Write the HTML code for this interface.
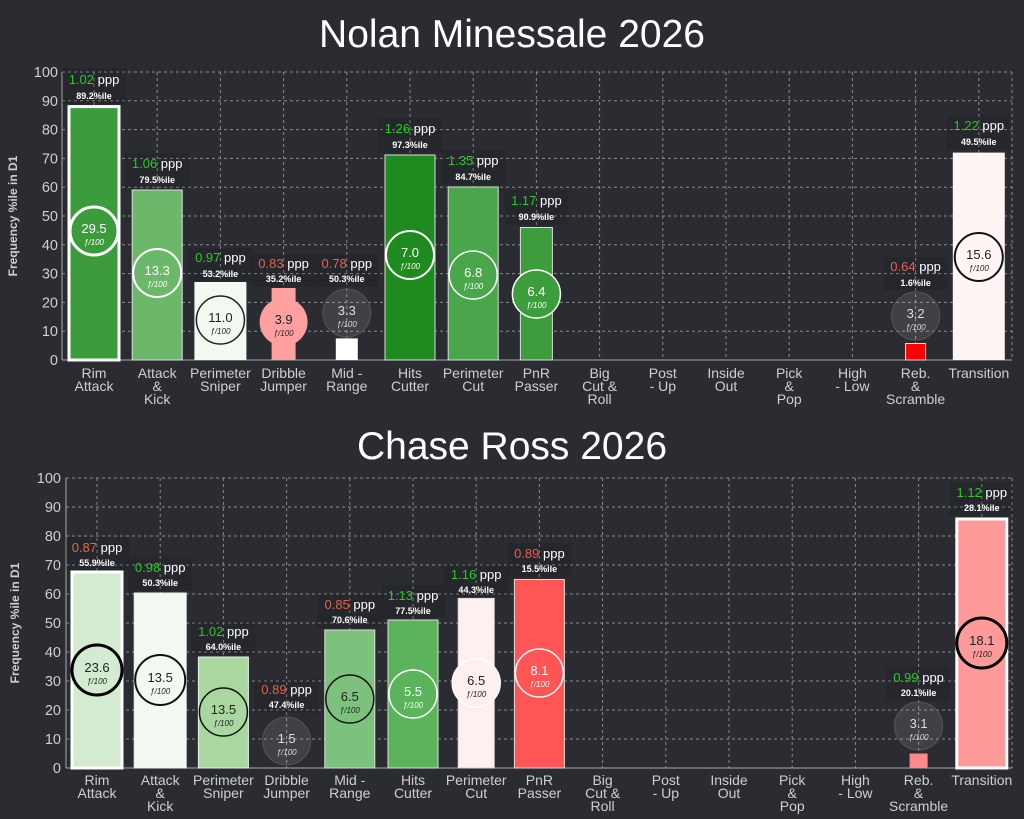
<!DOCTYPE html>
<html><head><meta charset="utf-8"><style>
html,body{margin:0;padding:0;background:#2a2c31;}
svg{display:block;font-family:"Liberation Sans",sans-serif;}
.t{fill:#fff;font-size:39px;text-anchor:middle}
.yt{fill:#cfcfcf;font-size:14.5px;text-anchor:end}
.xl{fill:#cfcfcf;font-size:14px;text-anchor:middle}
.g{stroke:#aaa;stroke-dasharray:3,3;stroke-width:1;opacity:.75}
.pp{font-size:13px;text-anchor:middle;fill:#fff}
.pc{font-size:9px;text-anchor:middle;fill:#fff;font-weight:bold}
.v{font-size:13px;text-anchor:middle}
.f{font-size:8px;text-anchor:middle;font-style:italic}
.lb{fill:#000;opacity:.1}
.gn{fill:#22cc22}.rd{fill:#e8604c}
</style></head><body>
<svg width="1024" height="819" viewBox="0 0 1024 819">
<rect width="1024" height="819" fill="#2a2c31"/>
<text class="t" x="512" y="47">Nolan Minessale 2026</text>
<text class="t" x="512" y="459">Chase Ross 2026</text>

<!-- TOP CHART -->
<g>
<g class="g">
<line x1="62" x2="1012" y1="72" y2="72"/><line x1="62" x2="1012" y1="100.8" y2="100.8"/><line x1="62" x2="1012" y1="129.6" y2="129.6"/><line x1="62" x2="1012" y1="158.4" y2="158.4"/><line x1="62" x2="1012" y1="187.2" y2="187.2"/><line x1="62" x2="1012" y1="216" y2="216"/><line x1="62" x2="1012" y1="244.8" y2="244.8"/><line x1="62" x2="1012" y1="273.6" y2="273.6"/><line x1="62" x2="1012" y1="302.4" y2="302.4"/><line x1="62" x2="1012" y1="331.2" y2="331.2"/>
<line x1="1012" x2="1012" y1="72" y2="360"/>
<line x1="94" x2="94" y1="72" y2="360"/><line x1="157.2" x2="157.2" y1="72" y2="360"/><line x1="220.4" x2="220.4" y1="72" y2="360"/><line x1="283.6" x2="283.6" y1="72" y2="360"/><line x1="346.8" x2="346.8" y1="72" y2="360"/><line x1="410" x2="410" y1="72" y2="360"/><line x1="473.2" x2="473.2" y1="72" y2="360"/><line x1="536.4" x2="536.4" y1="72" y2="360"/><line x1="599.6" x2="599.6" y1="72" y2="360"/><line x1="662.8" x2="662.8" y1="72" y2="360"/><line x1="726" x2="726" y1="72" y2="360"/><line x1="789.2" x2="789.2" y1="72" y2="360"/><line x1="852.4" x2="852.4" y1="72" y2="360"/><line x1="915.6" x2="915.6" y1="72" y2="360"/><line x1="978.8" x2="978.8" y1="72" y2="360"/>
</g>
<line x1="62" x2="62" y1="72" y2="360" stroke="#aaa"/>
<line x1="62" x2="1012" y1="360" y2="360" stroke="#aaa"/>
<g>
<text class="yt" x="58" y="77">100</text><text class="yt" x="58" y="105.8">90</text><text class="yt" x="58" y="134.6">80</text><text class="yt" x="58" y="163.4">70</text><text class="yt" x="58" y="192.2">60</text><text class="yt" x="58" y="221">50</text><text class="yt" x="58" y="249.8">40</text><text class="yt" x="58" y="278.6">30</text><text class="yt" x="58" y="307.4">20</text><text class="yt" x="58" y="336.2">10</text><text class="yt" x="58" y="365">0</text>
</g>
<text transform="translate(17,216) rotate(-90)" fill="#cfcfcf" font-size="12" font-weight="bold" text-anchor="middle">Frequency %ile in D1</text>
<g class="xl">
<text x="94" y="378">Rim</text><text x="94" y="391">Attack</text>
<text x="157.2" y="378">Attack</text><text x="157.2" y="391">&amp;</text><text x="157.2" y="404">Kick</text>
<text x="220.4" y="378">Perimeter</text><text x="220.4" y="391">Sniper</text>
<text x="283.6" y="378">Dribble</text><text x="283.6" y="391">Jumper</text>
<text x="346.8" y="378">Mid -</text><text x="346.8" y="391">Range</text>
<text x="410" y="378">Hits</text><text x="410" y="391">Cutter</text>
<text x="473.2" y="378">Perimeter</text><text x="473.2" y="391">Cut</text>
<text x="536.4" y="378">PnR</text><text x="536.4" y="391">Passer</text>
<text x="599.6" y="378">Big</text><text x="599.6" y="391">Cut &amp;</text><text x="599.6" y="404">Roll</text>
<text x="662.8" y="378">Post</text><text x="662.8" y="391">- Up</text>
<text x="726" y="378">Inside</text><text x="726" y="391">Out</text>
<text x="789.2" y="378">Pick</text><text x="789.2" y="391">&amp;</text><text x="789.2" y="404">Pop</text>
<text x="852.4" y="378">High</text><text x="852.4" y="391">- Low</text>
<text x="915.6" y="378">Reb.</text><text x="915.6" y="391">&amp;</text><text x="915.6" y="404">Scramble</text>
<text x="978.8" y="378">Transition</text>
</g>

<g transform="translate(94,0)">
<rect x="-25" y="106.6" width="50" height="253.4" fill="#3c9c3c" stroke="#fff" stroke-width="3"/>
<rect class="lb" x="-32" y="68" width="64" height="36"/>
<text class="pp" x="0" y="84"><tspan class="gn">1.02</tspan> ppp</text><text class="pc" x="0" y="99">89.2%ile</text>
<circle cx="0" cy="231" r="24" fill="#3c9c3c" stroke="#fff" stroke-width="3"/>
<text class="v" x="0" y="233" fill="#fff">29.5</text><text class="f" x="0" y="245" fill="#fff">ƒ/100</text>
</g>
<g transform="translate(157.2,0)">
<rect x="-25" y="190" width="50" height="170" fill="#6bb86b" stroke="#ddd" stroke-width="1"/>
<rect class="lb" x="-32" y="153" width="64" height="35"/>
<text class="pp" x="0" y="168"><tspan class="gn">1.06</tspan> ppp</text><text class="pc" x="0" y="183">79.5%ile</text>
<circle cx="0" cy="273" r="24" fill="#6bb86b" stroke="#fff" stroke-width="2"/>
<text class="v" x="0" y="275" fill="#fff">13.3</text><text class="f" x="0" y="287" fill="#fff">ƒ/100</text>
</g>
<g transform="translate(220.4,0)">
<rect x="-26" y="282" width="52" height="78" fill="#f3f8f0"/>
<rect class="lb" x="-32" y="248" width="64" height="33"/>
<text class="pp" x="0" y="262"><tspan class="gn">0.97</tspan> ppp</text><text class="pc" x="0" y="277">53.2%ile</text>
<circle cx="0" cy="320" r="24" fill="#f3f8f0" stroke="#222" stroke-width="1.5"/>
<text class="v" x="0" y="322" fill="#222">11.0</text><text class="f" x="0" y="334" fill="#222">ƒ/100</text>
</g>
<g transform="translate(283.6,0)">
<rect x="-12" y="288" width="24" height="72" fill="#ff9f9f"/>
<rect class="lb" x="-32" y="254" width="64" height="33"/>
<text class="pp" x="0" y="268"><tspan class="rd">0.83</tspan> ppp</text><text class="pc" x="0" y="282">35.2%ile</text>
<circle cx="0" cy="322" r="24" fill="#ffa0a0"/>
<text class="v" x="0" y="324" fill="#222">3.9</text><text class="f" x="0" y="336" fill="#222">ƒ/100</text>
</g>
<g transform="translate(346.8,0)">
<rect x="-11" y="338.4" width="22" height="21.6" fill="#fff"/>
<rect class="lb" x="-32" y="254" width="64" height="33"/>
<text class="pp" x="0" y="268"><tspan class="rd">0.78</tspan> ppp</text><text class="pc" x="0" y="282">50.3%ile</text>
<circle cx="0" cy="313" r="24" fill="#fff" fill-opacity=".1" stroke="#555" stroke-width="1"/>
<text class="v" x="0" y="315" fill="#ddd">3.3</text><text class="f" x="0" y="327" fill="#ddd">ƒ/100</text>
</g>
<g transform="translate(410,0)">
<rect x="-25" y="155" width="50" height="205" fill="#1f8a1f" stroke="#ddd" stroke-width="1"/>
<rect class="lb" x="-32" y="118" width="64" height="35"/>
<text class="pp" x="0" y="133"><tspan class="gn">1.26</tspan> ppp</text><text class="pc" x="0" y="148">97.3%ile</text>
<circle cx="0" cy="255" r="24" fill="#1f8a1f" stroke="#fff" stroke-width="2"/>
<text class="v" x="0" y="257" fill="#fff">7.0</text><text class="f" x="0" y="269" fill="#fff">ƒ/100</text>
</g>
<g transform="translate(473.2,0)">
<rect x="-25" y="187" width="50" height="173" fill="#4aa64a" stroke="#ddd" stroke-width="1"/>
<rect class="lb" x="-32" y="150" width="64" height="35"/>
<text class="pp" x="0" y="165"><tspan class="gn">1.35</tspan> ppp</text><text class="pc" x="0" y="180">84.7%ile</text>
<circle cx="0" cy="275" r="24" fill="#4aa64a" stroke="#fff" stroke-width="1.5"/>
<text class="v" x="0" y="277" fill="#fff">6.8</text><text class="f" x="0" y="289" fill="#fff">ƒ/100</text>
</g>
<g transform="translate(536.4,0)">
<rect x="-16" y="227.5" width="32" height="132.5" fill="#3d9d3d" stroke="#ddd" stroke-width="1"/>
<rect class="lb" x="-32" y="190" width="64" height="35"/>
<text class="pp" x="0" y="205"><tspan class="gn">1.17</tspan> ppp</text><text class="pc" x="0" y="220">90.9%ile</text>
<circle cx="0" cy="294" r="24" fill="#3d9d3d" stroke="#fff" stroke-width="1.5"/>
<text class="v" x="0" y="296" fill="#fff">6.4</text><text class="f" x="0" y="308" fill="#fff">ƒ/100</text>
</g>
<g transform="translate(915.6,0)">
<rect x="-10" y="343.5" width="20" height="16.5" fill="#ff0000" stroke="#ddd" stroke-width="1"/>
<rect class="lb" x="-32" y="257" width="64" height="33"/>
<text class="pp" x="0" y="271"><tspan class="rd">0.64</tspan> ppp</text><text class="pc" x="0" y="286">1.6%ile</text>
<circle cx="0" cy="316" r="24" fill="#fff" fill-opacity=".1" stroke="#555" stroke-width="1"/>
<text class="v" x="0" y="318" fill="#ddd">3.2</text><text class="f" x="0" y="330" fill="#ddd">ƒ/100</text>
</g>
<g transform="translate(978.8,0)">
<rect x="-26" y="152.6" width="52" height="207.4" fill="#fff5f5"/>
<rect class="lb" x="-32" y="115" width="64" height="35"/>
<text class="pp" x="0" y="130"><tspan class="gn">1.22</tspan> ppp</text><text class="pc" x="0" y="145">49.5%ile</text>
<circle cx="0" cy="257" r="24" fill="#fff5f5" stroke="#111" stroke-width="2"/>
<text class="v" x="0" y="259" fill="#222">15.6</text><text class="f" x="0" y="271" fill="#222">ƒ/100</text>
</g>
</g>

<!-- BOTTOM CHART -->
<g>
<g class="g">
<line x1="66" x2="1012" y1="478" y2="478"/><line x1="66" x2="1012" y1="507" y2="507"/><line x1="66" x2="1012" y1="536" y2="536"/><line x1="66" x2="1012" y1="565" y2="565"/><line x1="66" x2="1012" y1="594" y2="594"/><line x1="66" x2="1012" y1="623" y2="623"/><line x1="66" x2="1012" y1="652" y2="652"/><line x1="66" x2="1012" y1="681" y2="681"/><line x1="66" x2="1012" y1="710" y2="710"/><line x1="66" x2="1012" y1="739" y2="739"/>
<line x1="1012" x2="1012" y1="478" y2="768"/>
<line x1="97" x2="97" y1="478" y2="768"/><line x1="160.2" x2="160.2" y1="478" y2="768"/><line x1="223.4" x2="223.4" y1="478" y2="768"/><line x1="286.6" x2="286.6" y1="478" y2="768"/><line x1="349.8" x2="349.8" y1="478" y2="768"/><line x1="413" x2="413" y1="478" y2="768"/><line x1="476.2" x2="476.2" y1="478" y2="768"/><line x1="539.4" x2="539.4" y1="478" y2="768"/><line x1="602.6" x2="602.6" y1="478" y2="768"/><line x1="665.8" x2="665.8" y1="478" y2="768"/><line x1="729" x2="729" y1="478" y2="768"/><line x1="792.2" x2="792.2" y1="478" y2="768"/><line x1="855.4" x2="855.4" y1="478" y2="768"/><line x1="918.6" x2="918.6" y1="478" y2="768"/><line x1="981.8" x2="981.8" y1="478" y2="768"/>
</g>
<line x1="66" x2="66" y1="478" y2="768" stroke="#aaa"/>
<line x1="66" x2="1012" y1="768" y2="768" stroke="#aaa"/>
<g>
<text class="yt" x="61" y="483">100</text><text class="yt" x="61" y="512">90</text><text class="yt" x="61" y="541">80</text><text class="yt" x="61" y="570">70</text><text class="yt" x="61" y="599">60</text><text class="yt" x="61" y="628">50</text><text class="yt" x="61" y="657">40</text><text class="yt" x="61" y="686">30</text><text class="yt" x="61" y="715">20</text><text class="yt" x="61" y="744">10</text><text class="yt" x="61" y="773">0</text>
</g>
<text transform="translate(19,623) rotate(-90)" fill="#cfcfcf" font-size="12" font-weight="bold" text-anchor="middle">Frequency %ile in D1</text>
<g class="xl">
<text x="97" y="785">Rim</text><text x="97" y="798">Attack</text>
<text x="160.2" y="785">Attack</text><text x="160.2" y="798">&amp;</text><text x="160.2" y="811">Kick</text>
<text x="223.4" y="785">Perimeter</text><text x="223.4" y="798">Sniper</text>
<text x="286.6" y="785">Dribble</text><text x="286.6" y="798">Jumper</text>
<text x="349.8" y="785">Mid -</text><text x="349.8" y="798">Range</text>
<text x="413" y="785">Hits</text><text x="413" y="798">Cutter</text>
<text x="476.2" y="785">Perimeter</text><text x="476.2" y="798">Cut</text>
<text x="539.4" y="785">PnR</text><text x="539.4" y="798">Passer</text>
<text x="602.6" y="785">Big</text><text x="602.6" y="798">Cut &amp;</text><text x="602.6" y="811">Roll</text>
<text x="665.8" y="785">Post</text><text x="665.8" y="798">- Up</text>
<text x="729" y="785">Inside</text><text x="729" y="798">Out</text>
<text x="792.2" y="785">Pick</text><text x="792.2" y="798">&amp;</text><text x="792.2" y="811">Pop</text>
<text x="855.4" y="785">High</text><text x="855.4" y="798">- Low</text>
<text x="918.6" y="785">Reb.</text><text x="918.6" y="798">&amp;</text><text x="918.6" y="811">Scramble</text>
<text x="981.8" y="785">Transition</text>
</g>

<g transform="translate(97,0)">
<rect x="-25" y="572" width="50" height="196" fill="#d3ebd0" stroke="#fff" stroke-width="3"/>
<rect class="lb" x="-32" y="537" width="64" height="33"/>
<text class="pp" x="0" y="552"><tspan class="rd">0.87</tspan> ppp</text><text class="pc" x="0" y="566">55.9%ile</text>
<circle cx="0" cy="670" r="25" fill="#d3ebd0" stroke="#000" stroke-width="3"/>
<text class="v" x="0" y="672" fill="#222">23.6</text><text class="f" x="0" y="684" fill="#222">ƒ/100</text>
</g>
<g transform="translate(160.2,0)">
<rect x="-26" y="593" width="52" height="175" fill="#f3f9f1" stroke="#eee" stroke-width="1"/>
<rect class="lb" x="-32" y="557" width="64" height="34"/>
<text class="pp" x="0" y="572"><tspan class="gn">0.98</tspan> ppp</text><text class="pc" x="0" y="586">50.3%ile</text>
<circle cx="0" cy="680" r="25" fill="#f3f9f1" stroke="#111" stroke-width="2"/>
<text class="v" x="0" y="682" fill="#222">13.5</text><text class="f" x="0" y="694" fill="#222">ƒ/100</text>
</g>
<g transform="translate(223.4,0)">
<rect x="-25" y="657" width="50" height="111" fill="#a8d8a0" stroke="#eee" stroke-width="1"/>
<rect class="lb" x="-32" y="621" width="64" height="34"/>
<text class="pp" x="0" y="636"><tspan class="gn">1.02</tspan> ppp</text><text class="pc" x="0" y="650">64.0%ile</text>
<circle cx="0" cy="712" r="24" fill="#a8d8a0" stroke="#111" stroke-width="1.5"/>
<text class="v" x="0" y="714" fill="#222">13.5</text><text class="f" x="0" y="726" fill="#222">ƒ/100</text>
</g>
<g transform="translate(286.6,0)">
<rect class="lb" x="-32" y="679" width="64" height="34"/>
<text class="pp" x="0" y="694"><tspan class="rd">0.89</tspan> ppp</text><text class="pc" x="0" y="708">47.4%ile</text>
<circle cx="0" cy="741" r="24" fill="#fff" fill-opacity=".1" stroke="#555" stroke-width="1"/>
<text class="v" x="0" y="743" fill="#ddd">1.5</text><text class="f" x="0" y="755" fill="#ddd">ƒ/100</text>
</g>
<g transform="translate(349.8,0)">
<rect x="-25" y="630" width="50" height="138" fill="#7cc27c" stroke="#ddd" stroke-width="1"/>
<rect class="lb" x="-32" y="594" width="64" height="34"/>
<text class="pp" x="0" y="609"><tspan class="rd">0.85</tspan> ppp</text><text class="pc" x="0" y="623">70.6%ile</text>
<circle cx="0" cy="699" r="24" fill="#7cc27c" stroke="#111" stroke-width="1.5"/>
<text class="v" x="0" y="701" fill="#222">6.5</text><text class="f" x="0" y="713" fill="#222">ƒ/100</text>
</g>
<g transform="translate(413,0)">
<rect x="-25" y="620" width="50" height="148" fill="#5bb35b" stroke="#ddd" stroke-width="1"/>
<rect class="lb" x="-32" y="585" width="64" height="33"/>
<text class="pp" x="0" y="600"><tspan class="gn">1.13</tspan> ppp</text><text class="pc" x="0" y="614">77.5%ile</text>
<circle cx="0" cy="694" r="24" fill="#5bb35b" stroke="#fff" stroke-width="1.5"/>
<text class="v" x="0" y="696" fill="#fff">5.5</text><text class="f" x="0" y="708" fill="#fff">ƒ/100</text>
</g>
<g transform="translate(476.2,0)">
<rect x="-18" y="598.4" width="36" height="169.6" fill="#fff0f0" stroke="#ddd" stroke-width="1"/>
<rect class="lb" x="-32" y="564" width="64" height="33"/>
<text class="pp" x="0" y="579"><tspan class="gn">1.16</tspan> ppp</text><text class="pc" x="0" y="593">44.3%ile</text>
<circle cx="0" cy="683" r="24" fill="#fff0f0" stroke="#fff" stroke-width="1.5"/>
<text class="v" x="0" y="685" fill="#222">6.5</text><text class="f" x="0" y="697" fill="#222">ƒ/100</text>
</g>
<g transform="translate(539.4,0)">
<rect x="-25" y="579.5" width="50" height="188.5" fill="#ff5555" stroke="#ddd" stroke-width="1"/>
<rect class="lb" x="-32" y="543" width="64" height="34"/>
<text class="pp" x="0" y="558"><tspan class="rd">0.89</tspan> ppp</text><text class="pc" x="0" y="572">15.5%ile</text>
<circle cx="0" cy="673" r="24" fill="#ff5555" stroke="#fff" stroke-width="1.5"/>
<text class="v" x="0" y="675" fill="#fff">8.1</text><text class="f" x="0" y="687" fill="#fff">ƒ/100</text>
</g>
<g transform="translate(918.6,0)">
<rect x="-9" y="753.5" width="18" height="14.5" fill="#ff8888"/>
<rect class="lb" x="-32" y="667" width="64" height="34"/>
<text class="pp" x="0" y="682"><tspan class="gn">0.99</tspan> ppp</text><text class="pc" x="0" y="696">20.1%ile</text>
<circle cx="0" cy="726" r="24" fill="#fff" fill-opacity=".1" stroke="#555" stroke-width="1"/>
<text class="v" x="0" y="728" fill="#ddd">3.1</text><text class="f" x="0" y="740" fill="#ddd">ƒ/100</text>
</g>
<g transform="translate(981.8,0)">
<rect x="-25" y="519" width="50" height="249" fill="#ff9a9a" stroke="#fff" stroke-width="3"/>
<rect class="lb" x="-32" y="482" width="64" height="34"/>
<text class="pp" x="0" y="497"><tspan class="gn">1.12</tspan> ppp</text><text class="pc" x="0" y="511">28.1%ile</text>
<circle cx="0" cy="643" r="25" fill="#ff9a9a" stroke="#000" stroke-width="3"/>
<text class="v" x="0" y="645" fill="#222">18.1</text><text class="f" x="0" y="657" fill="#222">ƒ/100</text>
</g>
</g>
</svg>
</body></html>
